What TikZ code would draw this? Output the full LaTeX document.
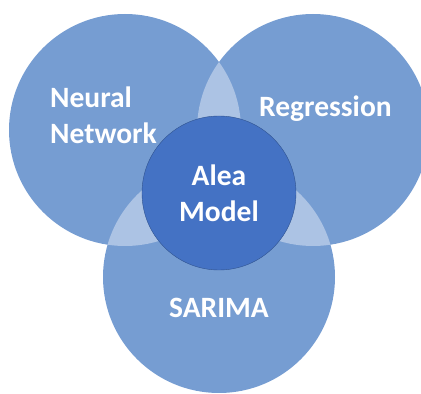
\documentclass[tikz,border=0pt]{standalone}
\usepackage{fontspec}
\setmainfont{Carlito}
\usetikzlibrary{calc}
\definecolor{vennblue}{RGB}{118,157,210}
\definecolor{vennlight}{RGB}{172,195,228}
\definecolor{aleablue}{RGB}{68,114,196}
\definecolor{aleaedge}{RGB}{47,82,143}

\begin{document}
\begin{tikzpicture}[x=1pt, y=1pt,
  txt/.style={text=white, font=\fontsize{29.5}{36}\selectfont\bfseries, inner sep=0}]
\useasboundingbox (0,0) rectangle (421,394);
\coordinate (nn) at (125,264);
\coordinate (reg) at (313,264);
\coordinate (sar) at (219,117);
\foreach \c in {nn, reg, sar}
 \fill[vennblue] (\c) circle (116);
\begin{scope}
 \clip (nn) circle (116);
 \fill[vennlight] (reg) circle (116);
 \fill[vennlight] (sar) circle (116);
\end{scope}
\begin{scope}
 \clip (reg) circle (116);
 \fill[vennlight] (sar) circle (116);
\end{scope}
\node[circle, fill=aleablue, draw=aleaedge, minimum size=154, align=center, txt] (alea) at (219,201) {Alea\\Model};
\node[txt, align=left, anchor=west] (neural) at (50,279) {Neural\\Network};
\node[txt, anchor=base west] (regr) at (259,277) {Regression};
\node[txt, anchor=base] (sarima) at (219,76) {SARIMA};
\end{tikzpicture}
\end{document}
